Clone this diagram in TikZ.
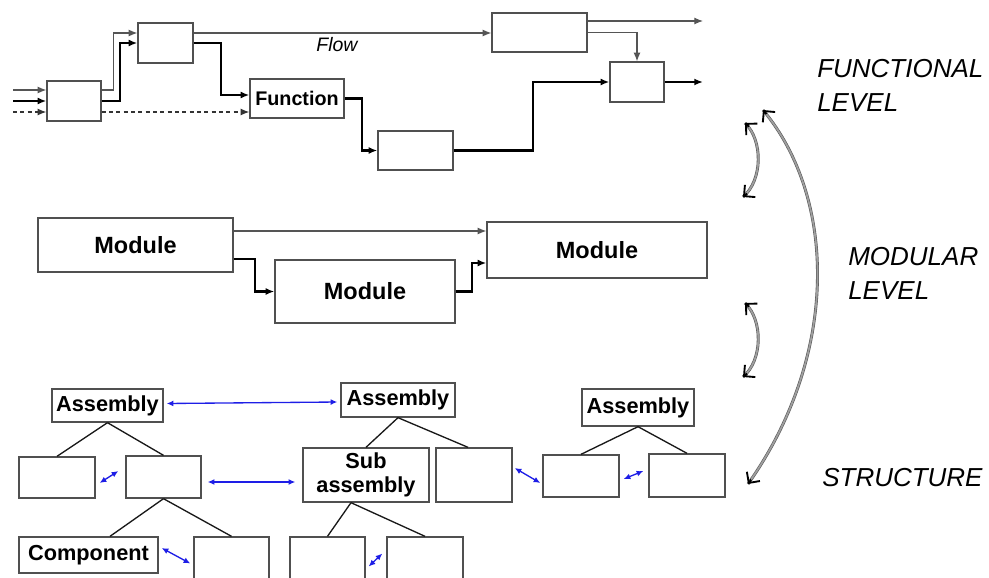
\documentclass[tikz,border=0pt]{standalone}
\usepackage{fontspec}
\setmainfont{Liberation Sans}
\usetikzlibrary{arrows.meta,calc}
\definecolor{boxgray}{RGB}{80,80,80}
\definecolor{thingray}{RGB}{85,85,85}
\definecolor{arrblue}{RGB}{30,30,230}
\begin{document}
\begin{tikzpicture}[x=0.75pt,y=-0.75pt,
  box/.style 2 args={draw=boxgray, line width=1pt, minimum width=#1*0.75pt, minimum height=#2*0.75pt, inner sep=0pt, fill=white},
  fn/.style={font=\fontsize{14.8}{17}\selectfont\bfseries},
  md/.style={font=\fontsize{17.6}{20}\selectfont\bfseries},
  st/.style={font=\fontsize{16.3}{19}\selectfont\bfseries, align=center},
  lvl/.style={font=\fontsize{19.5}{25.5}\selectfont\itshape, align=left, anchor=west, inner sep=0pt},
  tip/.style={-{Latex[length=6.5pt,width=5.2pt]}},
  thinln/.style={tip, draw=thingray, line width=0.8pt},
  thickln/.style={tip, draw=black, line width=1.7pt},
  dashln/.style={tip, draw=black!80, line width=0.9pt, dash pattern=on 3pt off 2.5pt},
  treeln/.style={draw=black!90, line width=1pt},
  bluearr/.style={draw=arrblue, line width=1pt, {Latex[length=5pt,width=4.4pt]}-{Latex[length=5pt,width=4.4pt]}},
  levarc/.style={draw=black!65, double=gray!75, double distance=1.3pt, line width=0.45pt},
  levtip/.style={draw=black, line width=1.4pt, line join=miter, -{Straight Barb[length=6pt,width=12pt]}}
]
\useasboundingbox (0,0) rectangle (989,578);
\clip (0,0) rectangle (989,578);

% ---------- functional level ----------
\node[box={54}{40}] (A) at (74,101) {};
\node[box={55}{40}] (B) at (165.5,43) {};
\node[box={94}{39}, fn] (F) at (297,98.5) {Function};
\node[box={95}{39}] (C) at (539.5,32.5) {};
\node[box={54}{40}] (D) at (637,82) {};
\node[box={75}{39}] (E) at (415.5,150.5) {};
\node[font=\fontsize{14.6}{17}\selectfont\itshape] (flow) at (337,45) {Flow};

\coordinate (in1) at (13,90);
\coordinate (in2) at (13,101);
\coordinate (in3) at (13,112);
\coordinate (o1) at (703,21);
\coordinate (o2) at (703,82);

\draw[thinln] (in1) -- (in1 -| A.west);
\draw[thickln] (in2) -- (in2 -| A.west);
\draw[dashln] (in3) -- (in3 -| A.west);

\draw[thinln] ($(A.east)+(0,-11)$) -- ++(12,0) |- ($(B.west)+(0,-10)$);
\draw[thickln] (A.east) -- ++(18,0) |- (B.west);
\coordinate (a3) at ($(A.east)+(0,11)$);
\draw[dashln] (a3) -- (a3 -| F.west);
\draw[thickln] (B.east) -- ++(27,0) |- ($(F.west)+(0,-3.5)$);
\coordinate (b1) at ($(B.east)+(0,-10)$);
\draw[thinln] (b1) -- (b1 -| C.west);
\draw[thinln] ($(C.east)+(0,-11.5)$) -- (o1);
\draw[thinln] (C.east) -| (D.north);
\draw[thickln] (D.east) -- (o2);
\draw[thickln] (F.east) -- ++(17,0) |- (E.west);
\draw[thickln] (E.east) -- ++(79,0) |- (D.west);

% ---------- modular level ----------
\node[box={195}{54}, md] (M1) at (135.5,245) {Module};
\node[box={180}{63}, md] (M2) at (365,291.5) {Module};
\node[box={220}{56}, md] (M3) at (597,250) {Module};
\coordinate (m1) at ($(M1.east)+(0,-14)$);
\draw[thinln] (m1) -- (m1 -| M3.west);
\draw[thickln] ($(M1.east)+(0,14)$) -- ++(21,0) |- (M2.west);
\draw[thickln] (M2.east) -- ++(16,0) |- ($(M3.west)+(0,13)$);

% ---------- structure ----------
\node[box={111}{33}, st] (As1) at (107.5,405.5) {Assembly};
\node[box={114}{34}, st] (As2) at (398,400) {Assembly};
\node[box={112}{37}, st] (As3) at (638,407.5) {Assembly};
\node[box={76}{41}] (L1) at (57,477.5) {};
\node[box={75}{42}] (L2) at (163.5,477) {};
\node[box={126}{54}, st] (SA) at (366,475) {Sub\\[-1pt]assembly};
\node[box={76}{54}] (RB) at (474,475) {};
\node[box={76}{42}] (R1) at (581,476) {};
\node[box={76}{43}] (R2) at (687,475.5) {};
\node[box={139}{36}, st] (Comp) at (88.5,555) {Component};
\node[box={75}{46}] (CB) at (231.5,560) {};
\node[box={75}{46}] (SA1) at (327.5,560) {};
\node[box={76}{46}] (SA2) at (425,560) {};

\draw[treeln] (As1.south) -- (L1.north);
\draw[treeln] (As1.south) -- (L2.north);
\draw[treeln] (As2.south) -- (SA.north);
\draw[treeln] (As2.south) -- ($(RB.north)+(-6,0)$);
\draw[treeln] (As3.south) -- (R1.north);
\draw[treeln] (As3.south) -- (R2.north);
\draw[treeln] (L2.south) -- ($(Comp.north)+(21.5,0)$);
\draw[treeln] (L2.south) -- (CB.north);
\draw[treeln] ($(SA.south)+(-15,0)$) -- (SA1.north);
\draw[treeln] ($(SA.south)+(-15,0)$) -- (SA2.north);

\draw[bluearr] ($(As1.east)+(3,-2)$) -- ($(As2.west)+(-3,2)$);
\draw[bluearr] ($(L1.east)+(4,5.5)$) -- ($(L2.west)+(-7,-6)$);
\draw[bluearr] ($(L2.east)+(6,5)$) -- ($(SA.west)+(-7,7)$);
\draw[bluearr] ($(Comp.east)+(3,-7)$) -- ($(CB.west)+(-3,3.5)$);
\draw[bluearr] ($(SA1.east)+(3,6.5)$) -- ($(SA2.west)+(-4,-6.5)$);
\draw[bluearr] ($(RB.east)+(2,-7)$) -- ($(R1.west)+(-2,7)$);
\draw[bluearr] ($(R1.east)+(4,3)$) -- ($(R2.west)+(-5,-4.5)$);

% ---------- level labels and arcs ----------
\node[lvl] (lf) at (817,85) {FUNCTIONAL\\LEVEL};
\node[lvl] (lm) at (848,273) {MODULAR\\LEVEL};
\node[lvl] (ls) at (822,478) {STRUCTURE};

\coordinate (g1) at (763,110);
\coordinate (g2) at (748,484);
\coordinate (gc1) at (838,200);
\coordinate (gc2) at (838,357);
\coordinate (u1) at (745,123);
\coordinate (u2) at (743,197);
\coordinate (uc1) at (763,140);
\coordinate (uc2) at (763,180);
\coordinate (w1) at (745,303);
\coordinate (w2) at (743,377);
\coordinate (wc1) at (763,320);
\coordinate (wc2) at (763,360);
\draw[levarc] (g1) .. controls (gc1) and (gc2) .. (g2);
\draw[levarc] (u1) .. controls (uc1) and (uc2) .. (u2);
\draw[levarc] (w1) .. controls (wc1) and (wc2) .. (w2);
\draw[levtip] ($(g1)!4pt!(gc1)$) -- (g1);
\draw[levtip] ($(g2)!4pt!(gc2)$) -- (g2);
\draw[levtip] ($(u1)!4pt!(uc1)$) -- (u1);
\draw[levtip] ($(u2)!4pt!(uc2)$) -- (u2);
\draw[levtip] ($(w1)!4pt!(wc1)$) -- (w1);
\draw[levtip] ($(w2)!4pt!(wc2)$) -- (w2);
\end{tikzpicture}
\end{document}
